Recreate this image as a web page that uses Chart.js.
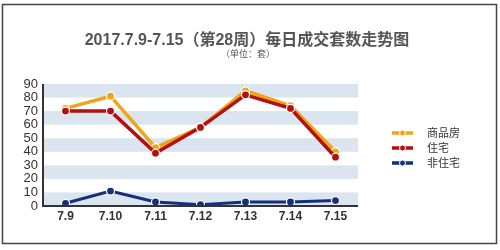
<!DOCTYPE html>
<html>
<head>
<meta charset="utf-8">
<script src="https://cdn.jsdelivr.net/npm/chart.js@4/dist/chart.umd.min.js"></script>
<style>
  html, body { margin: 0; padding: 0; background: #fff; }
  #wrap { width: 500px; height: 250px; position: relative; }
</style>
</head>
<body>
<div id="wrap"><canvas id="chart" width="500" height="250"></canvas></div>
<script>
// data
const days = ['7.9', '7.10', '7.11', '7.12', '7.13', '7.14', '7.15'];
const commercial = [72, 81, 43, 58, 85, 74, 40];   // 商品房
const housing = [70, 70, 39, 58, 82, 72, 36];      // 住宅
const nonHousing = [2, 11, 3, 1, 3, 3, 4];         // 非住宅
const seriesNames = ['商品房', '住宅', '非住宅'];
const seriesColors = ['#f0a418', '#b3100f', '#14307c'];
const yTicks = [0, 10, 20, 30, 40, 50, 60, 70, 80, 90];

const titleText = '2017.7.9-7.15（第28周）每日成交套数走势图';
const unitText = '（单位：套）';

// striped background + frame + title
const decor = {
  id: 'decor',
  beforeDraw(chart) {
    const { ctx, chartArea: a, scales: { y } } = chart;
    ctx.save();
    ctx.fillStyle = '#fff';
    ctx.fillRect(0, 0, chart.width, chart.height);
    ctx.fillStyle = '#dbe5f0';
    for (let v = 0; v < 90; v += 20) {
      const top = y.getPixelForValue(v + 10);
      const bot = y.getPixelForValue(v);
      ctx.fillRect(a.left, top, a.right - a.left, bot - top);
    }
    // frame
    ctx.strokeStyle = '#444';
    ctx.lineWidth = 1.5;
    ctx.strokeRect(2.5, 4.5, 494, 239);
    // title
    ctx.fillStyle = '#555';
    ctx.textAlign = 'center';
    ctx.textBaseline = 'middle';
    ctx.font = 'bold 16px "Liberation Sans", "Noto Sans CJK SC", sans-serif';
    ctx.fillText(titleText, 247, 41);
    ctx.font = '9px "Noto Sans CJK SC", sans-serif';
    ctx.fillText(unitText, 248, 54);
    ctx.restore();
  },
  afterDatasetsDraw(chart) {
    const { ctx, chartArea: a } = chart;
    ctx.save();
    // axis lines
    ctx.strokeStyle = '#333';
    ctx.lineWidth = 2;
    ctx.beginPath();
    ctx.moveTo(a.left, a.top);
    ctx.lineTo(a.left, a.bottom);
    ctx.lineTo(a.right, a.bottom);
    ctx.stroke();
    // legend
    seriesNames.forEach((name, i) => {
      const cy = 133 + i * 15;
      ctx.strokeStyle = seriesColors[i];
      ctx.lineWidth = 3.5;
      ctx.beginPath();
      ctx.moveTo(392, cy);
      ctx.lineTo(413, cy);
      ctx.stroke();
      ctx.fillStyle = seriesColors[i];
      ctx.strokeStyle = '#fff';
      ctx.lineWidth = 1;
      ctx.beginPath();
      ctx.arc(402.5, cy, 3, 0, Math.PI * 2);
      ctx.fill();
      ctx.stroke();
      ctx.fillStyle = '#333';
      ctx.textAlign = 'left';
      ctx.textBaseline = 'middle';
      ctx.font = '11px "Noto Sans CJK SC", sans-serif';
      ctx.fillText(name, 427, cy);
    });
    ctx.restore();
  }
};

const makeSet = (label, data, color, width, order) => ({
  label,
  data,
  order,
  borderColor: color,
  backgroundColor: color,
  borderWidth: width,
  pointRadius: 4,
  pointBorderWidth: 1.2,
  pointBorderColor: '#fff',
  pointBackgroundColor: color,
  tension: 0
});

new Chart(document.getElementById('chart'), {
  type: 'line',
  data: {
    labels: days,
    datasets: [
      makeSet(seriesNames[0], commercial, seriesColors[0], 3.5, 2),
      makeSet(seriesNames[1], housing, seriesColors[1], 3.5, 1),
      makeSet(seriesNames[2], nonHousing, seriesColors[2], 3, 0)
    ]
  },
  options: {
    responsive: false,
    animation: false,
    layout: { padding: { top: 84, right: 142, left: 0, bottom: 0 } },
    plugins: {
      legend: { display: false },
      title: { display: false },
      tooltip: { enabled: false }
    },
    scales: {
      x: {
        offset: true,
        grid: { display: false, drawTicks: false },
        border: { display: false },
        ticks: {
          color: '#333',
          padding: 3,
          maxRotation: 0,
          autoSkip: false,
          font: { family: '"Liberation Sans", Arial, sans-serif', size: 12, weight: 'bold' }
        },
        afterFit(s) { s.height = 44; }
      },
      y: {
        min: 0,
        max: 90,
        grid: { display: false, drawTicks: false },
        border: { display: false },
        afterBuildTicks(s) { s.ticks = yTicks.map(v => ({ value: v })); },
        ticks: {
          color: '#333',
          padding: 5,
          autoSkip: false,
          font: { family: '"Liberation Sans", Arial, sans-serif', size: 13 }
        },
        afterFit(s) { s.width = 43; }
      }
    }
  },
  plugins: [decor]
});
</script>
</body>
</html>
